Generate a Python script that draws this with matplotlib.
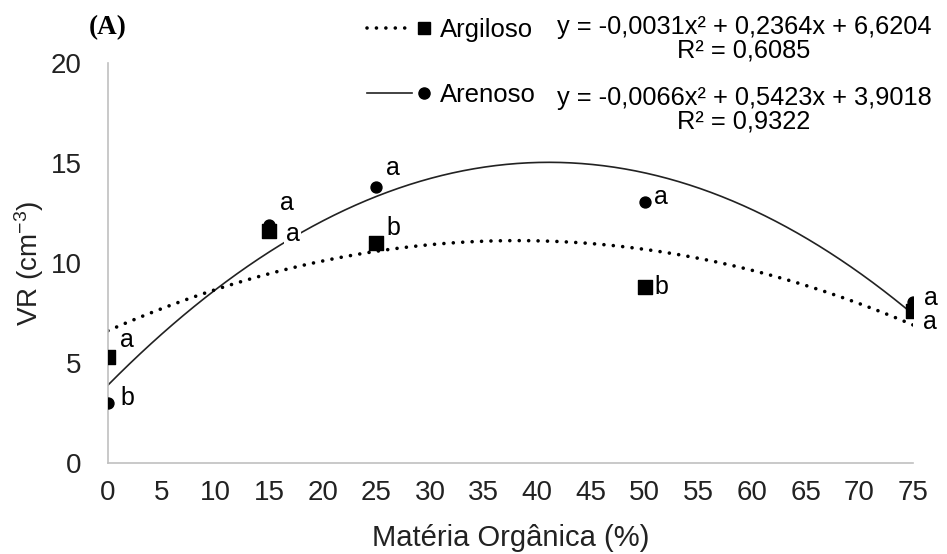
import numpy as np
import matplotlib
matplotlib.use("Agg")
import matplotlib.pyplot as plt
from matplotlib.lines import Line2D

plt.rcParams["font.family"] = ["Liberation Sans", "DejaVu Sans"]
plt.rcParams["mathtext.fontset"] = "custom"
plt.rcParams["mathtext.rm"] = "Liberation Sans"
plt.rcParams["mathtext.it"] = "Liberation Sans"

# data
materia_organica = [0, 15, 25, 50, 75]
argiloso = [5.3, 11.6, 11.0, 8.8, 7.6]
arenoso = [3.0, 11.9, 13.8, 13.05, 8.05]
letras_argiloso = ["a", "a", "b", "b", "a"]
letras_arenoso = ["b", "a", "a", "a", "a"]

# quadratic trend lines as printed on the chart
coef_argiloso = [-0.0031, 0.2364, 6.6204]
coef_arenoso = [-0.0066, 0.5423, 3.9018]
eq_argiloso = "y = -0,0031x² + 0,2364x + 6,6204\nR² = 0,6085"
eq_arenoso = "y = -0,0066x² + 0,5423x + 3,9018\nR² = 0,9322"

# label offsets in points (layout only)
off_argiloso = [(9, 12), (12, -2), (7, 11), (7, 0), (7, -8)]
off_arenoso = [(9, 4), (8, 16), (7, 14), (7, 4), (8, 3)]


class LineThenMarker:
    # legend handle: line sample first, marker at its right end
    def legend_artist(self, legend, orig_handle, fontsize, handlebox):
        line, mk = orig_handle
        x0, y0 = handlebox.xdescent, handlebox.ydescent
        w, h = handlebox.width, handlebox.height
        tr = handlebox.get_transform()
        l = Line2D([x0, x0 + 0.71 * w], [y0 + h / 2] * 2)
        l.update_from(line)
        l.set_transform(tr)
        m = Line2D([x0 + 0.9 * w], [y0 + h / 2])
        m.update_from(mk)
        m.set_transform(tr)
        handlebox.add_artist(l)
        handlebox.add_artist(m)
        return l


dots = (0, (0.01, 2.6))

fig = plt.figure(figsize=(9.47, 5.54), dpi=100)
ax = fig.add_axes([0.114, 0.164, 0.850, 0.722])

xs = np.linspace(0, 75, 300)
ax.plot(xs, np.polyval(coef_arenoso, xs), color="#222222", lw=1.2, zorder=2)
ax.plot(xs, np.polyval(coef_argiloso, xs), color="black", lw=2.6,
        linestyle=dots, dash_capstyle="round", zorder=2)

ax.scatter(materia_organica, argiloso, marker="s", s=88, color="black", zorder=4)
ax.scatter(materia_organica, arenoso, marker="o", s=62, color="black", zorder=4)

for x, y, t, o in zip(materia_organica, argiloso, letras_argiloso, off_argiloso):
    ax.annotate(t, (x, y), xytext=o, textcoords="offset points", fontsize=18,
                ha="left", va="center", zorder=3,
                bbox=dict(boxstyle="square,pad=0.05", fc="white", ec="none"))
for x, y, t, o in zip(materia_organica, arenoso, letras_arenoso, off_arenoso):
    ax.annotate(t, (x, y), xytext=o, textcoords="offset points", fontsize=18,
                ha="left", va="center", zorder=3,
                bbox=dict(boxstyle="square,pad=0.05", fc="white", ec="none"))

ax.set_xlim(0, 75)
ax.set_ylim(0, 20)
ax.set_xticks(np.arange(0, 80, 5))
ax.set_yticks(np.arange(0, 25, 5))
ax.tick_params(length=0, labelsize=20, colors="#222222")
ax.tick_params(axis="y", pad=19)
ax.tick_params(axis="x", pad=12)
for s in ["top", "right"]:
    ax.spines[s].set_visible(False)
for s in ["left", "bottom"]:
    ax.spines[s].set_color("#c0c0c0")
    ax.spines[s].set_linewidth(1.2)

ax.set_xlabel("Matéria Orgânica (%)", fontsize=21, color="#222222", labelpad=13)
ax.set_ylabel("VR (cm$^{-3}$)", fontsize=20, color="#222222", labelpad=3)

fig.text(0.114, 0.95, "(A)", fontsize=19.5, fontweight="bold",
         family="Liberation Serif", ha="center", va="center")

h_arg = (Line2D([], [], color="black", lw=2.6, linestyle=dots, dash_capstyle="round"),
         Line2D([], [], color="black", marker="s", ms=9, ls="none"))
h_are = (Line2D([], [], color="#222222", lw=1.2),
         Line2D([], [], color="black", marker="o", ms=8, ls="none"))
fig.legend([h_arg, h_are], ["Argiloso", "Arenoso"],
           handler_map={tuple: LineThenMarker()},
           loc="upper left", bbox_to_anchor=(0.3875, 0.967), borderaxespad=0,
           frameon=False, fontsize=18.5, handlelength=2.45, handletextpad=0.4,
           labelspacing=1.58, borderpad=0)

fig.text(0.7856, 0.973, eq_argiloso, fontsize=18.3, ha="center", va="top",
         multialignment="center", linespacing=0.95)
fig.text(0.7856, 0.844, eq_arenoso, fontsize=18.3, ha="center", va="top",
         multialignment="center", linespacing=0.95)

fig.savefig("out.png", dpi=100)
